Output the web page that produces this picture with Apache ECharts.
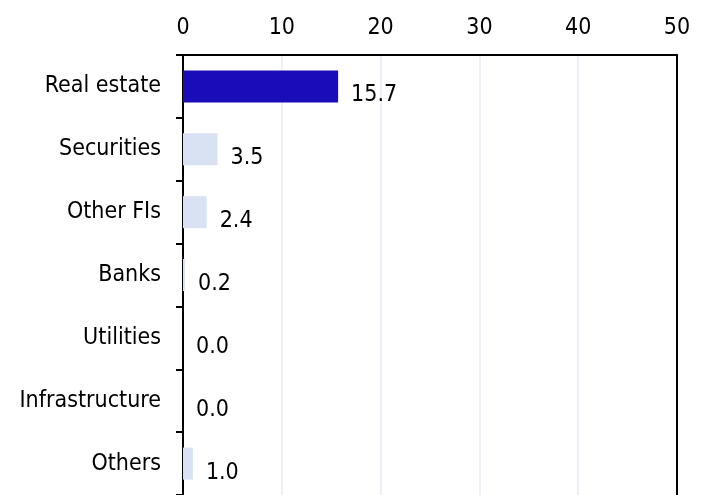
<!DOCTYPE html>
<html>
<head>
<meta charset="utf-8">
<script src="https://cdn.jsdelivr.net/npm/echarts@6/dist/echarts.min.js"></script>
<style>
  html, body { margin: 0; padding: 0; background: #fff; }
  #chart { width: 707px; height: 495px; }
</style>
</head>
<body>
<div id="chart"></div>
<script>
// 行业分类
const categories = ['Real estate', 'Securities', 'Other FIs', 'Banks', 'Utilities', 'Infrastructure', 'Others'];
// 数值
const values = [15.7, 3.5, 2.4, 0.2, 0.0, 0.0, 1.0];
// 颜色：第一项深蓝，其余浅蓝
const highlightColor = '#1a0cb8';
const baseColor = '#d9e2f3';

const font = '"DejaVu Sans Condensed", "DejaVu Sans", sans-serif';
const fontSize = 23;

const chart = echarts.init(document.getElementById('chart'));

chart.setOption({
  animation: false,
  grid: { left: 183, right: 30, top: 55, bottom: -2, containLabel: false },
  xAxis: {
    type: 'value',
    position: 'top',
    min: 0,
    max: 50,
    interval: 10,
    axisLine: { show: true, onZero: false, lineStyle: { color: '#000', width: 2 } },
    axisTick: { show: false },
    axisLabel: { color: '#000', fontSize: fontSize, fontFamily: font, margin: 15 },
    splitLine: { show: true, lineStyle: { color: '#e6ecf5', width: 1.5 } }
  },
  yAxis: [
    {
      type: 'category',
      data: categories,
      inverse: true,
      axisLine: { show: true, lineStyle: { color: '#000', width: 2 } },
      axisTick: { show: true, length: 7, lineStyle: { color: '#000', width: 2 } },
      axisLabel: { color: '#000', fontSize: fontSize, fontFamily: font, margin: 22 }
    },
    {
      type: 'category',
      data: categories,
      inverse: true,
      position: 'right',
      axisLine: { show: true, lineStyle: { color: '#000', width: 2 } },
      axisTick: { show: false },
      axisLabel: { show: false }
    }
  ],
  series: [{
    type: 'bar',
    data: values.map((v, i) => ({
      value: v,
      itemStyle: { color: i === 0 ? highlightColor : baseColor }
    })),
    barWidth: 32,
    label: {
      show: true,
      position: 'right',
      distance: 13,
      color: '#000',
      fontSize: fontSize,
      fontFamily: font,
      offset: [0, 9],
      formatter: p => p.value.toFixed(1)
    }
  }]
});
</script>
</body>
</html>
